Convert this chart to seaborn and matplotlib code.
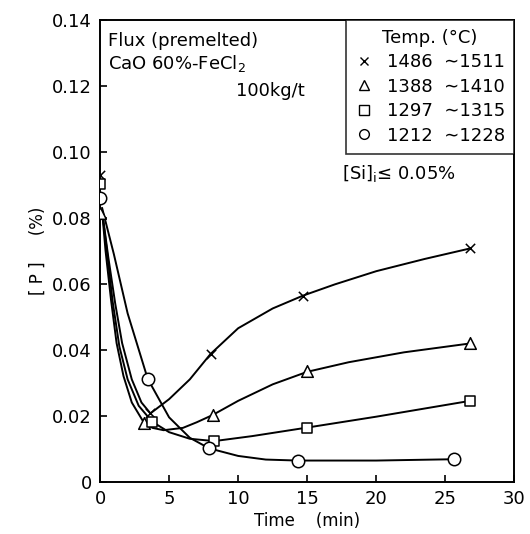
import matplotlib
matplotlib.use("Agg")
import matplotlib.pyplot as plt
from matplotlib.lines import Line2D
import seaborn as sns
import pandas as pd

# ---- measured points (time in min, [P] in %) ----
series_labels = ["1486  \u223c1511", "1388  \u223c1410", "1297  \u223c1315", "1212  \u223c1228"]
markers = ["x", "^", "s", "o"]

t_x = [0.0, 3.65, 8.0, 14.7, 26.8]
p_x = [0.0929, 0.0207, 0.0387, 0.0564, 0.0707]

t_tri = [0.0, 3.16, 8.15, 15.0, 26.8]
p_tri = [0.0815, 0.0179, 0.0202, 0.0336, 0.0419]

t_sq = [0.0, 3.77, 8.27, 14.96, 26.8]
p_sq = [0.0901, 0.0182, 0.0123, 0.0164, 0.0245]

t_ci = [0.0, 3.45, 7.9, 14.3, 25.6]
p_ci = [0.0859, 0.0312, 0.0101, 0.0064, 0.0068]

# ---- hand-drawn trend curves ----
curve_t_x = [0.15, 0.6, 1.1, 1.6, 2.3, 3.0, 3.65, 5.0, 6.5, 8.0, 10.0, 12.5, 14.7, 17.0, 20.0, 23.5, 26.8]
curve_p_x = [0.082, 0.068, 0.054, 0.042, 0.031, 0.024, 0.0207, 0.025, 0.031, 0.0387, 0.0465, 0.0525, 0.0564, 0.0598, 0.0638, 0.0675, 0.0707]

curve_t_tri = [0.15, 0.4, 0.8, 1.2, 1.7, 2.3, 3.16, 3.8, 4.6, 6.0, 7.0, 8.15, 10.0, 12.5, 15.0, 18.0, 22.0, 26.8]
curve_p_tri = [0.082, 0.07, 0.055, 0.042, 0.032, 0.024, 0.018, 0.0163, 0.0156, 0.0163, 0.018, 0.0202, 0.0245, 0.0295, 0.0333, 0.0362, 0.0392, 0.0419]

curve_t_sq = [0.15, 0.5, 0.9, 1.4, 2.0, 2.8, 3.77, 5.0, 6.5, 8.27, 11.0, 15.0, 20.0, 26.8]
curve_p_sq = [0.082, 0.07, 0.055, 0.041, 0.031, 0.023, 0.0182, 0.015, 0.013, 0.0123, 0.0138, 0.0164, 0.0197, 0.0245]

curve_t_ci = [0.15, 1.0, 2.0, 3.45, 5.0, 6.5, 7.9, 10.0, 12.0, 14.3, 20.0, 25.6]
curve_p_ci = [0.083, 0.069, 0.051, 0.0312, 0.0195, 0.0133, 0.0101, 0.0078, 0.0067, 0.0064, 0.0064, 0.0068]

x_ticks = [0, 5, 10, 15, 20, 25, 30]
y_ticks = [0, 0.02, 0.04, 0.06, 0.08, 0.10, 0.12, 0.14]
y_tick_labels = ["0", "0.02", "0.04", "0.06", "0.08", "0.10", "0.12", "0.14"]

sns.set_style("white")
plt.rcParams["font.family"] = ["DejaVu Sans"]
plt.rcParams["text.color"] = "black"
plt.rcParams["axes.labelcolor"] = "black"

fig = plt.figure(figsize=(5.30, 5.34), dpi=100)
ax = fig.add_axes([0.1887, 0.098, 0.782, 0.865])

curves = [(curve_t_x, curve_p_x), (curve_t_tri, curve_p_tri),
          (curve_t_sq, curve_p_sq), (curve_t_ci, curve_p_ci)]
for ct, cp in curves:
    sns.lineplot(x=ct, y=cp, ax=ax, color="black", lw=1.4, sort=False, estimator=None)

pts = [(t_x, p_x), (t_tri, p_tri), (t_sq, p_sq), (t_ci, p_ci)]
sizes = [45, 70, 50, 80]
for (tt, pp), m, s in zip(pts, markers, sizes):
    if m == "x":
        sns.scatterplot(x=tt, y=pp, ax=ax, marker="x", color="black", s=s, linewidth=1.1, zorder=5)
    else:
        sns.scatterplot(x=tt, y=pp, ax=ax, marker=m, facecolor="white", edgecolor="black",
                        s=s, linewidth=1.1, zorder=5)

ax.set_xlim(0, 30)
ax.set_ylim(0, 0.14)
ax.set_xticks(x_ticks)
ax.set_xticklabels([str(v) for v in x_ticks])
ax.set_yticks(y_ticks)
ax.set_yticklabels(y_tick_labels)
ax.tick_params(axis="both", direction="in", length=5, width=1.2, labelsize=13,
               colors="black", bottom=True, left=True, top=False, right=False, pad=6)
for sp in ax.spines.values():
    sp.set_color("black")
    sp.set_linewidth(1.4)

ax.set_xlabel("Time    (min)", fontsize=12, labelpad=3, color="black")
ax.set_ylabel("[ P ]     (%)", fontsize=12, labelpad=4, color="black")

tkw = dict(transform=ax.transAxes, fontsize=13, va="center", color="black")
ax.text(0.02, 0.955, "Flux (premelted)", ha="left", **tkw)
ax.text(0.02, 0.905, "CaO 60%-FeCl$_2$", ha="left", **tkw)
ax.text(0.495, 0.845, "100kg/t", ha="right", **tkw)
ax.text(0.585, 0.668, "[Si]$_{\\mathrm{i}}$\u2264 0.05%", ha="left", **tkw)

handles = []
for m in markers:
    if m == "x":
        handles.append(Line2D([], [], ls="none", marker="x", color="black", markersize=6, mew=1.0))
    else:
        handles.append(Line2D([], [], ls="none", marker=m, mfc="white", mec="black", markersize=7, mew=1.0))
leg = ax.legend(handles, series_labels, title="Temp. (\u00b0C)", loc="upper right",
                borderaxespad=0, frameon=True, fontsize=13, title_fontsize=13,
                handletextpad=0.8, handlelength=1.0, labelspacing=0.36, borderpad=0.5,
                fancybox=False)
leg.get_frame().set_edgecolor("black")
leg.get_frame().set_linewidth(1.2)
for t in leg.get_texts():
    t.set_color("black")
leg.get_title().set_color("black")

fig.savefig("out.png", dpi=100)
